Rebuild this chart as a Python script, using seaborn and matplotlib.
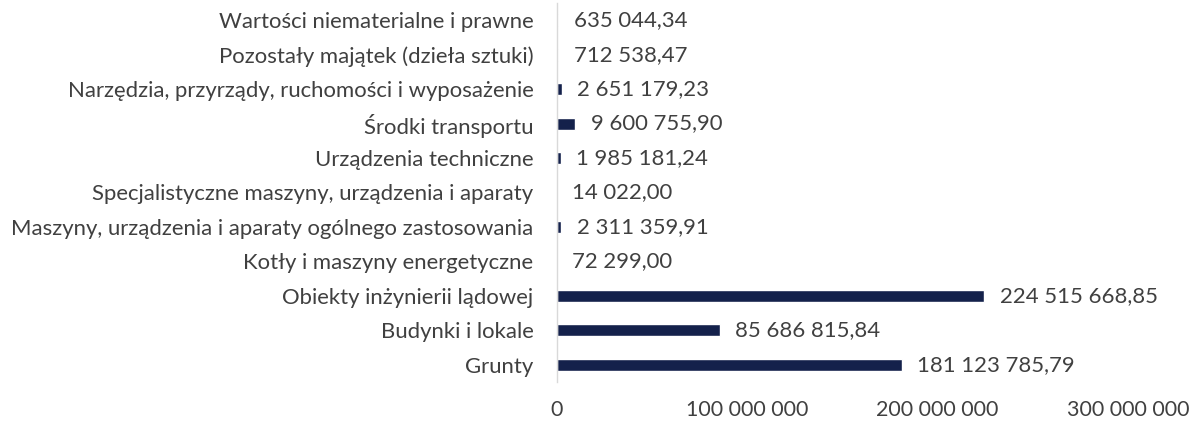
import matplotlib
matplotlib.use("Agg")
import matplotlib.pyplot as plt
import seaborn as sns
import pandas as pd
from matplotlib.ticker import FuncFormatter, FixedLocator

categories = [
    "Wartości niematerialne i prawne",
    "Pozostały majątek (dzieła sztuki)",
    "Narzędzia, przyrządy, ruchomości i wyposażenie",
    "Środki transportu",
    "Urządzenia techniczne",
    "Specjalistyczne maszyny, urządzenia i aparaty",
    "Maszyny, urządzenia i aparaty ogólnego zastosowania",
    "Kotły i maszyny energetyczne",
    "Obiekty inżynierii lądowej",
    "Budynki i lokale",
    "Grunty",
]
values = [
    635044.34,
    712538.47,
    2651179.23,
    9600755.90,
    1985181.24,
    14022.00,
    2311359.91,
    72299.00,
    224515668.85,
    85686815.84,
    181123785.79,
]
x_ticks = [0, 100000000, 200000000, 300000000]

sns.set_theme(style="white")
plt.rcParams["font.family"] = ["Lato", "DejaVu Sans"]

df = pd.DataFrame({"kategoria": categories, "wartosc": values})

fig = plt.figure(figsize=(11.89, 4.21), dpi=100)
ax = fig.add_axes([0.4685, 0.0926, 0.4802, 0.9004])

navy = "#14214B"
sns.barplot(data=df, y="kategoria", x="wartosc", orient="h", color=navy,
            width=0.35, saturation=1, ax=ax, order=categories)

ax.set_xlim(0, 300000000)
ax.set_ylim(len(categories) - 0.5, -0.5)
ax.set_xlabel("")
ax.set_ylabel("")

def fmt_val(v):
    return f"{v:,.2f}".replace(",", " ").replace(".", ",")

fs = 15.9
for i, v in enumerate(values):
    ax.annotate(fmt_val(v), xy=(v, i), xytext=(11, 0), textcoords="offset points",
                va="center", ha="left", fontsize=fs, color="#404040")

ax.xaxis.set_major_locator(FixedLocator(x_ticks))
ax.xaxis.set_major_formatter(FuncFormatter(lambda v, p: f"{int(v):,}".replace(",", " ")))

for s in ["top", "right", "bottom"]:
    ax.spines[s].set_visible(False)
ax.spines["left"].set_color("#D9D9D9")
ax.spines["left"].set_linewidth(1.0)

ax.tick_params(axis="y", length=0, pad=17, labelsize=fs, labelcolor="#404040")
ax.tick_params(axis="x", length=0, pad=13, labelsize=15.4, labelcolor="#404040")
ax.grid(False)

fig.savefig("out.png", dpi=100)
